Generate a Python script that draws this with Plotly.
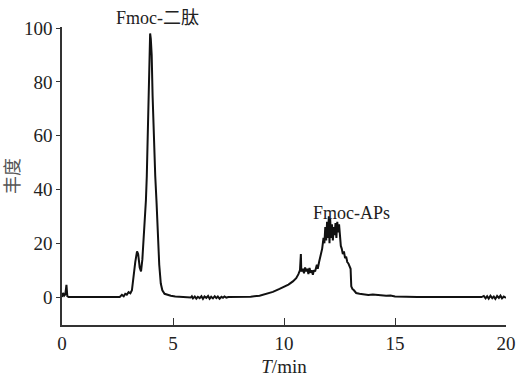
import plotly.graph_objects as go

# Chromatogram (time in min, abundance)
time_min = [0.00, 0.05, 0.10, 0.15, 0.20, 0.24, 0.30, 1.00, 2.00, 2.60,
            2.70, 2.78, 2.85, 2.92, 3.00, 3.08, 3.15, 3.22, 3.30, 3.38,
            3.43, 3.50, 3.56, 3.62, 3.68, 3.72, 3.78, 3.82, 3.86, 3.90,
            3.94, 3.97, 4.00, 4.04, 4.08, 4.12, 4.16, 4.20, 4.26, 4.32,
            4.38, 4.45, 4.52, 4.62, 4.75, 4.90, 5.10, 5.50, 5.80, 5.85,
            5.90, 5.98, 6.05, 6.12, 6.20, 6.28, 6.35, 6.42, 6.50, 6.58,
            6.65, 6.72, 6.80, 6.88, 6.95, 7.02, 7.10, 7.18, 7.25, 7.32,
            7.40, 7.50, 8.50, 8.90, 9.20, 9.50, 9.80, 10.00, 10.20, 10.40,
            10.55, 10.65, 10.72, 10.76, 10.78, 10.85, 10.90, 10.95, 11.00, 11.05,
            11.10, 11.15, 11.20, 11.25, 11.30, 11.35, 11.40, 11.48, 11.52, 11.58,
            11.65, 11.72, 11.78, 11.82, 11.86, 11.90, 11.94, 11.98, 12.02, 12.05,
            12.08, 12.12, 12.16, 12.20, 12.24, 12.28, 12.32, 12.36, 12.40, 12.44,
            12.48, 12.52, 12.56, 12.60, 12.65, 12.70, 12.75, 12.80, 12.85, 12.90,
            12.95, 13.00, 13.03, 13.08, 13.15, 13.25, 13.40, 13.60, 13.80, 14.00,
            14.30, 14.60, 14.80, 15.00, 16.00, 17.50, 18.90, 19.00, 19.08, 19.15,
            19.22, 19.30, 19.38, 19.45, 19.52, 19.60, 19.68, 19.75, 19.82, 19.90,
            20.00]
abundance = [0.0, 1.5, 0.5, 1.0, 4.5, 0.3, 0.0, 0.0, 0.0, 0.0,
             0.8, 0.3, 1.2, 0.9, 1.8, 1.4, 2.5, 8.0, 13.0, 17.0,
             16.0, 11.0, 9.5, 14.0, 22.0, 30.0, 36.0, 45.0, 62.0, 80.0,
             92.0, 98.0, 96.0, 90.0, 75.0, 62.0, 58.0, 45.0, 35.0, 20.0,
             12.0, 5.0, 2.5, 1.2, 0.8, 0.5, 0.2, 0.0, -0.2, 0.3,
             -0.5, 0.2, -0.6, 0.1, -0.4, 0.3, -0.7, 0.2, -0.3, 0.4,
             -0.6, 0.1, -0.5, 0.3, -0.4, 0.2, -0.6, 0.1, -0.3, 0.2,
             -0.2, 0.0, 0.1, 0.5, 1.2, 1.9, 3.0, 3.8, 4.6, 5.8,
             7.0, 8.5, 10.0, 16.0, 9.5, 10.5, 8.8, 11.0, 9.5, 10.5,
             8.5, 10.8, 9.0, 10.0, 8.3, 10.0, 9.5, 12.0, 10.5, 13.0,
             15.0, 18.0, 22.0, 20.0, 26.0, 21.0, 28.0, 22.0, 30.0, 20.0,
             29.0, 22.0, 27.0, 21.0, 26.0, 23.0, 27.5, 22.0, 28.0, 24.0,
             27.0, 21.0, 19.0, 18.0, 16.0, 17.0, 14.5, 15.0, 13.0, 12.5,
             11.0, 10.5, 4.0, 3.0, 2.5, 1.5, 1.2, 1.0, 0.8, 0.9,
             0.6, 0.5, 0.6, 0.2, 0.0, 0.0, 0.0, 0.4, -0.5, 0.3,
             -0.6, 0.5, -0.4, 0.2, -0.7, 0.4, -0.3, 0.5, -0.5, 0.2,
             -0.3]

x_ticks = [0, 5, 10, 15, 20]
y_ticks = [0, 20, 40, 60, 80, 100]

peak_labels = ["Fmoc-二肽", "Fmoc-APs"]
peak_label_x = [0.214, 0.653]   # paper fraction
peak_label_y = [1.030, 0.376]   # paper fraction

FONT = "\"Liberation Serif\", \"Times New Roman\", \"Noto Sans CJK SC\", serif"

fig = go.Figure()
fig.add_trace(go.Scatter(x=time_min, y=abundance, mode="lines",
                         line=dict(color="#111111", width=2),
                         showlegend=False, cliponaxis=False))

for t, xx, yy in zip(peak_labels, peak_label_x, peak_label_y):
    fig.add_annotation(x=xx, y=yy, xref="paper", yref="paper", text=t, showarrow=False,
                       xanchor="center", yanchor="middle",
                       font=dict(family=FONT, size=18, color="#222222"))

fig.update_layout(
    width=520, height=377,
    margin=dict(l=62, r=14, t=27, b=52),
    paper_bgcolor="white", plot_bgcolor="white",
    font=dict(family=FONT, size=19, color="#222222"),
    xaxis=dict(range=[0, 20], tickvals=x_ticks, showgrid=False, zeroline=False,
               showline=True, linecolor="#333333", linewidth=1.5, automargin=False,
               ticks="inside", ticklen=7, tickcolor="#333333", tickwidth=1.2,
               title=dict(text="<i>T</i>/min", font=dict(family=FONT, size=19), standoff=10)),
    yaxis=dict(range=[-10.4, 100.4], tickvals=y_ticks, showgrid=False, zeroline=False,
               showline=True, linecolor="#333333", linewidth=1.5, automargin=False,
               ticks="outside", ticklen=4, tickcolor="#333333", tickwidth=1.2,
               title=dict(text="丰度", font=dict(family=FONT, size=18, color="#555555"), standoff=0)),
)

fig.write_html("out.html")
